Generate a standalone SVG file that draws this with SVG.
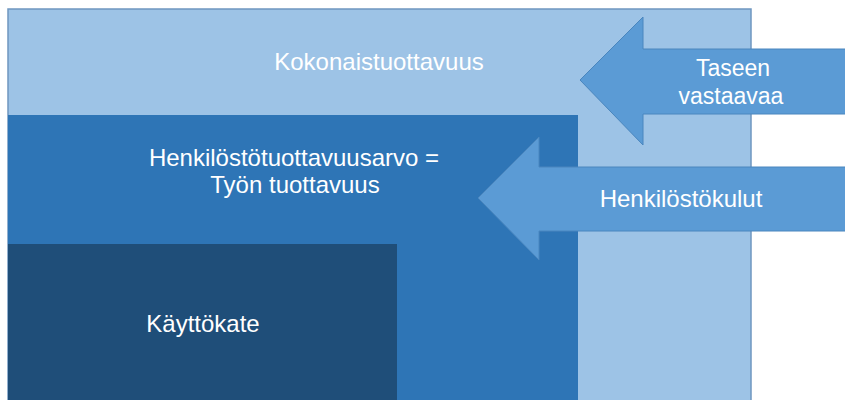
<svg xmlns="http://www.w3.org/2000/svg" width="845" height="400" viewBox="0 0 845 400">
<style>
.t{font-family:"Liberation Sans",Arial,sans-serif;font-size:24px;fill:#FFFFFF;text-anchor:middle}
.arrow{fill:#5B9BD5;stroke:#4A86BE;stroke-width:1}
</style>
<rect x="0" y="0" width="845" height="400" fill="#FFFFFF"/>
<g id="kokonais">
<rect x="8" y="9" width="743" height="395" fill="#9DC3E6" stroke="#6F97C0" stroke-width="1.5"/>
<text class="t" x="379" y="70">Kokonaistuottavuus</text>
</g>
<g id="henkilosto">
<rect x="8" y="115" width="570" height="290" fill="#2E75B6"/>
<text class="t" x="294" y="166">Henkilöstötuottavuusarvo =</text>
<text class="t" x="295" y="193">Työn tuottavuus</text>
</g>
<g id="kayttokate">
<rect x="8" y="244" width="389" height="160" fill="#1F4E79"/>
<text class="t" x="203" y="332">Käyttökate</text>
</g>
<g id="connectors">
<g id="taseen">
<polygon class="arrow" points="580,80 643,17 643,49 846,49 846,114 643,114 643,145"/>
<text class="t" x="733" y="76" style="font-size:23px">Taseen</text>
<text class="t" x="731" y="104" style="font-size:23px">vastaavaa</text>
</g>
<g id="henkilostokulut">
<polygon class="arrow" points="478,198 539,137 539,167 846,167 846,231 539,231 539,260"/>
<text class="t" x="681" y="207">Henkilöstökulut</text>
</g>
</g>
</svg>
